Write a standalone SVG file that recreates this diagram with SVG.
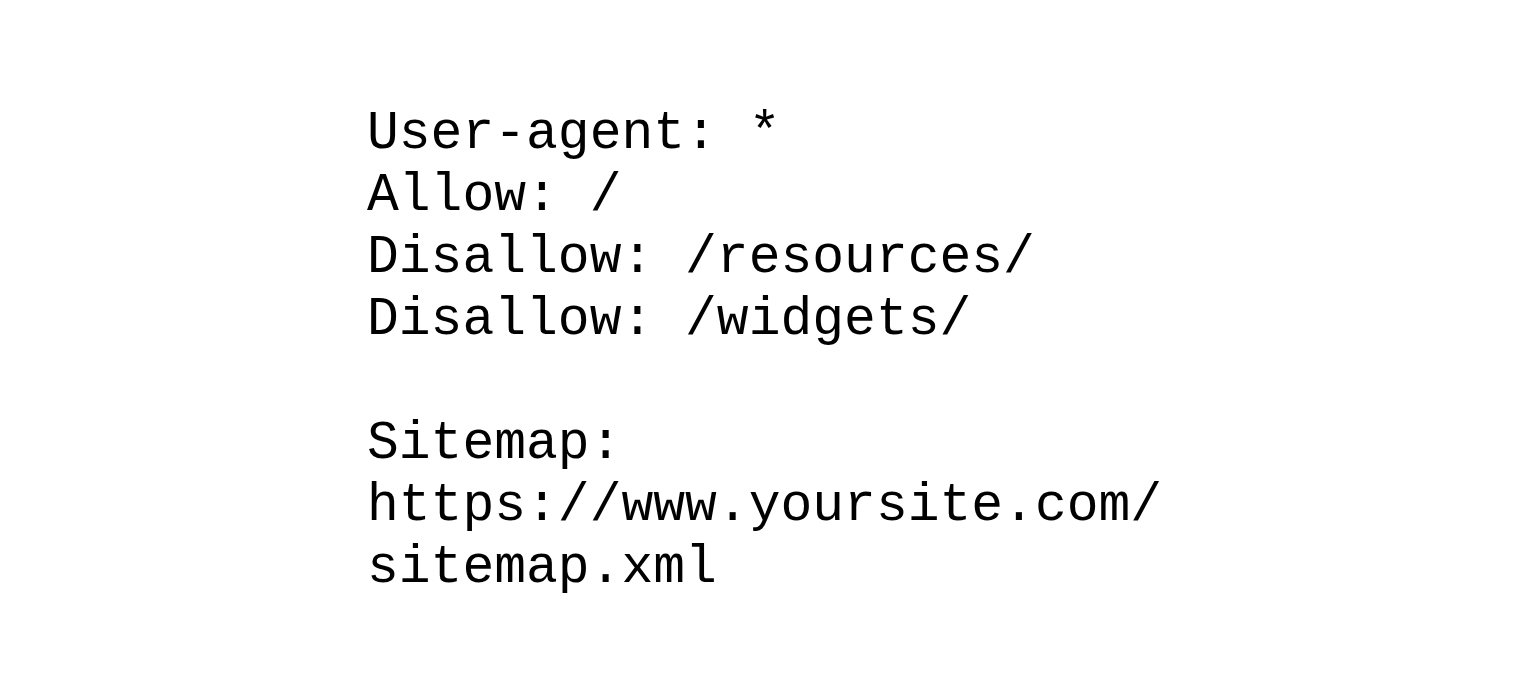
<svg xmlns="http://www.w3.org/2000/svg" width="1537" height="697" viewBox="0 0 1537 697">
<style>
text{font-family:"Liberation Mono","Courier New",monospace;font-size:53px;fill:#000}
</style>
<rect width="1537" height="697" fill="#fff"/>
<g id="robots">
<text x="367" y="148">User-agent: *</text>
<text x="367" y="210">Allow: /</text>
<text x="367" y="272">Disallow: /resources/</text>
<text x="367" y="334">Disallow: /widgets/</text>
<text x="367" y="458">Sitemap:</text>
<text x="367" y="520">https://www.yoursite.com/</text>
<text x="367" y="582">sitemap.xml</text>
</g>
</svg>
